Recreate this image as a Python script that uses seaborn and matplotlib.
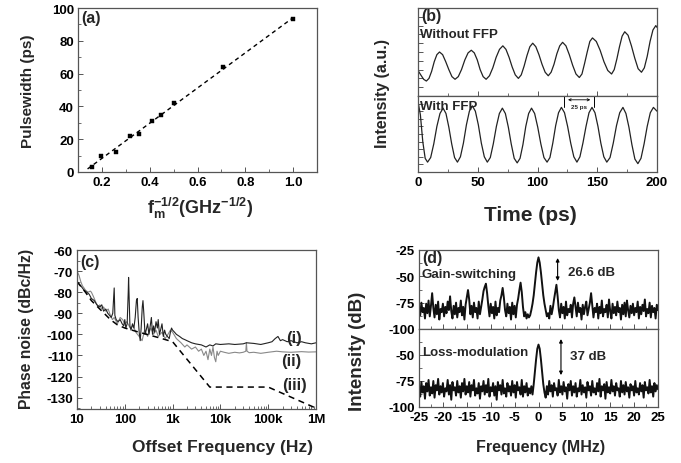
import numpy as np
import matplotlib
matplotlib.use('Agg')
import matplotlib.pyplot as plt
from matplotlib.ticker import MultipleLocator, FixedLocator, LogLocator, NullFormatter
import seaborn as sns

# ---- (a) pulsewidth vs fm^-1/2 ----
inv_sqrt_fm = [0.158, 0.196, 0.258, 0.316, 0.354, 0.408, 0.447, 0.500, 0.707, 1.000]
pulsewidth_ps = [3.0, 9.5, 12.5, 22.0, 23.0, 31.0, 34.5, 42.0, 64.0, 93.0]
fit_range = [0.14, 1.0]

# ---- (b) temporal traces ----
wo_ffp_t = [0, 2.3, 4.7, 7, 9.2, 11.4, 13.6, 15.8, 18, 20.6, 23.2, 25.8, 28.4, 31, 33.7, 36.4, 39.2,
            41.9, 44.6, 47.1, 49.6, 52, 54.5, 57, 59.8, 62.6, 65.4, 68.2, 71, 73.6, 76.2, 78.8, 81.4,
            84, 86.4, 88.8, 91.2, 93.6, 96, 98.6, 101.2, 103.8, 106.4, 109, 111.4, 113.8, 116.2,
            118.6, 121, 123.8, 126.6, 129.4, 132.2, 135, 137.2, 139.4, 141.6, 143.8, 146, 149.2,
            152.4, 155.6, 158.8, 162, 164.2, 166.4, 168.6, 170.8, 173, 175.8, 178.6, 181.4, 184.2,
            187, 189.4, 191.8, 194.2, 196.6, 199, 200]
wo_ffp_i = [0.29, 0.24, 0.19, 0.17, 0.20, 0.28, 0.39, 0.47, 0.50, 0.47, 0.39, 0.30, 0.22, 0.19, 0.22,
            0.30, 0.41, 0.49, 0.52, 0.49, 0.41, 0.30, 0.22, 0.19, 0.23, 0.32, 0.44, 0.53, 0.57, 0.53,
            0.44, 0.33, 0.24, 0.20, 0.24, 0.34, 0.46, 0.56, 0.60, 0.56, 0.47, 0.36, 0.27, 0.23, 0.27,
            0.36, 0.48, 0.57, 0.61, 0.57, 0.47, 0.35, 0.25, 0.21, 0.25, 0.37, 0.50, 0.62, 0.66, 0.62,
            0.52, 0.39, 0.29, 0.25, 0.30, 0.42, 0.56, 0.68, 0.73, 0.69, 0.57, 0.43, 0.31, 0.27, 0.32,
            0.45, 0.62, 0.75, 0.80, 0.78]
w_ffp_t = [0, 2, 4, 6, 8, 10.6, 13.2, 15.8, 18.4, 21, 23.4, 25.8, 28.2, 30.6, 33, 35.5, 38, 40.5, 43,
           45.5, 48, 50.5, 53, 55.5, 58, 60.5, 63, 65.6, 68.1, 70.6, 73.1, 75.6, 78, 80.5, 83, 85.4,
           87.8, 90.2, 92.6, 95, 97.6, 100.2, 102.8, 105.4, 108, 110.4, 112.8, 115.2, 117.6, 120,
           122.6, 125.2, 127.8, 130.4, 133, 135.5, 138, 140.6, 143.1, 145.6, 148.1, 150.6, 153, 155.5,
           158, 160.7, 163.4, 166.1, 168.8, 171.5, 174, 176.5, 179, 181.5, 184, 186.6, 189.2, 191.8,
           194.4, 197, 200]
w_ffp_i = [0.93, 0.75, 0.40, 0.18, 0.13, 0.19, 0.37, 0.60, 0.77, 0.84, 0.77, 0.59, 0.37, 0.19, 0.13,
           0.20, 0.38, 0.62, 0.80, 0.87, 0.80, 0.62, 0.38, 0.20, 0.13, 0.19, 0.37, 0.60, 0.77, 0.84,
           0.77, 0.59, 0.37, 0.18, 0.12, 0.18, 0.36, 0.60, 0.77, 0.84, 0.77, 0.59, 0.37, 0.19, 0.13,
           0.19, 0.38, 0.61, 0.78, 0.85, 0.78, 0.60, 0.38, 0.20, 0.13, 0.20, 0.38, 0.60, 0.78, 0.85,
           0.78, 0.60, 0.38, 0.20, 0.13, 0.19, 0.38, 0.61, 0.78, 0.85, 0.77, 0.59, 0.36, 0.17, 0.11,
           0.18, 0.37, 0.60, 0.78, 0.85, 0.80]
period_marks = [122.2, 147.5]

# ---- (c) phase noise ----
pn_i_f = [10, 12, 14, 16, 18, 20, 23, 26, 30, 33, 36, 40, 44, 48, 52, 56, 60, 62, 66, 72, 80, 88, 95,
          100, 105, 112, 118, 120, 123, 128, 135, 145, 155, 165, 175, 182, 190, 200, 210, 220, 232,
          240, 250, 265, 280, 300, 320, 340, 360, 380, 400, 420, 450, 480, 500, 530, 560, 600, 640,
          680, 720, 780, 850, 900, 950, 1000, 1100, 1200, 1400, 1600, 1800, 2000, 2500, 3000, 4000,
          5000, 6000, 7000, 8000, 10000, 15000, 20000, 30000, 35000, 50000, 70000, 100000, 120000,
          140000, 160000, 180000, 200000, 250000, 300000, 400000, 500000, 600000, 800000, 1000000]
pn_i_db = [-75, -77, -79, -80, -81, -83, -84, -86, -87, -86, -89, -88, -90, -91, -92, -90, -78, -91,
           -93, -94, -93, -95, -96, -93, -97, -95, -80, -73, -82, -96, -98, -95, -97, -92, -84, -83,
           -92, -99, -103, -97, -87, -84, -90, -100, -98, -95, -100, -96, -92, -100, -96, -99, -94,
           -97, -93, -100, -98, -95, -101, -98, -100, -101, -102, -99, -97, -98, -99, -100, -101,
           -102, -102.5, -103, -104, -104.5, -105, -106, -105, -105.5, -104.5, -104.8, -104.5,
           -104.8, -104.5, -104, -104.3, -104.8, -104, -103.5, -102, -101, -103, -102.5, -103.5,
           -103, -104, -103.5, -104, -104.5, -104]
pn_ii_f = [10, 11, 12, 13, 14, 15, 17, 19, 20, 22, 25, 28, 30, 33, 36, 40, 45, 50, 55, 60, 70, 80, 90,
           100, 110, 130, 150, 170, 200, 230, 260, 300, 350, 400, 450, 500, 600, 700, 800, 900, 1000,
           1200, 1500, 1800, 2000, 2500, 3000, 3500, 4000, 4500, 5000, 5500, 6000, 6500, 7000, 7500,
           8000, 8500, 9000, 10000, 12000, 15000, 20000, 25000, 30000, 34000, 35000, 36000, 40000,
           50000, 70000, 100000, 150000, 200000, 300000, 500000, 700000, 1000000]
pn_ii_db = [-70, -72, -75, -77, -78, -79, -80, -79.5, -80, -82, -85, -87, -86, -88, -87, -89, -88, -91,
            -93, -92, -95, -92, -93, -95, -94, -97, -96, -99, -101, -103, -98, -101, -97, -100, -98,
            -101, -99, -102, -100, -98, -99, -102, -104, -106, -105, -107, -106, -108, -107, -110,
            -108, -112, -107, -110, -106, -111, -113, -108, -110, -108, -108.5, -109, -108.5, -108.8,
            -108.5, -108, -104, -108, -108.7, -108.5, -109, -108.5, -108, -108.3, -108.5, -108.2,
            -108.4, -108.3]
pn_iii_f = [10, 15, 20, 30, 50, 70, 100, 200, 500, 1000, 6000, 100000, 1000000]
pn_iii_db = [-75, -80, -84, -88, -93, -95.5, -97, -99, -101.5, -103.5, -125, -125, -135]
pn_labels = ['(i)', '(ii)', '(iii)']

# ---- (d) RF spectra, sampled every 0.25 MHz from -25 to 25 MHz ----
gain_sw_db = [
    -79, -87, -75, -84, -80, -90, -76, -85, -73, -88, -78, -66, -80, -89, -77, -86, -74, -91, -81, -84,
    -76, -88, -79, -85, -74, -82, -69, -83, -90, -78, -86, -75, -89, -80, -84, -73, -87, -79, -91, -77,
    -70, -63, -72, -86, -78, -89, -75, -84, -80, -90, -74, -86, -79, -72, -64, -60, -57, -66, -78, -88,
    -76, -85, -79, -90, -74, -87, -80, -84, -73, -68, -61, -70, -82, -88, -76, -85, -79, -91, -75, -86,
    -78, -89, -77, -71, -63, -56, -65, -79, -88, -84, -90, -86, -89, -87, -82, -76, -68, -57, -46, -37,
    -32, -37, -46, -57, -68, -76, -82, -88, -85, -90, -78, -86, -80, -72, -65, -58, -69, -82, -89, -76,
    -85, -79, -90, -74, -87, -81, -84, -77, -89, -76, -70, -79, -88, -75, -84, -80, -91, -77, -86, -79,
    -74, -87, -81, -75, -66, -78, -89, -80, -84, -76, -90, -79, -85, -73, -88, -81, -84, -77, -89, -72,
    -83, -90, -76, -85, -79, -87, -74, -84, -80, -91, -77, -86, -75, -88, -73, -82, -89, -78, -85, -76,
    -87, -80, -84, -74, -90, -79, -86, -77, -83, -72, -88, -81, -85, -75, -89, -78, -84, -80, -90, -77,
    -82]
loss_mod_db = [
    -82, -90, -76, -86, -80, -92, -77, -85, -74, -89, -81, -87, -75, -91, -79, -84, -73, -88, -80, -86,
    -77, -90, -82, -85, -74, -88, -79, -93, -76, -84, -81, -89, -75, -86, -80, -91, -77, -85, -73, -88,
    -80, -86, -76, -90, -79, -84, -74, -89, -82, -87, -77, -92, -80, -85, -75, -88, -79, -86, -73, -90,
    -81, -85, -77, -89, -80, -93, -76, -84, -79, -88, -74, -87, -82, -90, -77, -85, -80, -89, -75, -86,
    -79, -91, -76, -84, -81, -88, -74, -90, -80, -86, -77, -89, -82, -87, -80, -88, -78, -66, -54, -44,
    -40, -44, -54, -66, -78, -86, -91, -80, -88, -75, -85, -79, -90, -77, -84, -82, -89, -74, -86, -80,
    -88, -76, -85, -81, -92, -78, -84, -75, -89, -80, -86, -77, -90, -82, -85, -74, -88, -79, -86, -81,
    -91, -76, -84, -80, -89, -75, -86, -82, -88, -77, -85, -73, -90, -80, -84, -78, -92, -76, -86, -81,
    -87, -74, -85, -80, -89, -77, -84, -82, -90, -75, -86, -79, -88, -76, -85, -81, -91, -78, -84, -80,
    -89, -75, -86, -82, -88, -77, -85, -79, -91, -76, -84, -81, -87, -74, -86, -80, -90, -77, -85, -79,
    -83]
gain_sw_f = np.linspace(-25, 25, len(gain_sw_db))
loss_mod_f = np.linspace(-25, 25, len(loss_mod_db))

sns.set_theme(style='ticks')
plt.rcParams['font.family'] = ['Liberation Sans', 'DejaVu Sans']
plt.rcParams['font.weight'] = 'bold'
plt.rcParams['axes.labelweight'] = 'bold'
plt.rcParams['mathtext.fontset'] = 'custom'
plt.rcParams['mathtext.rm'] = 'Liberation Sans:bold'
plt.rcParams['mathtext.it'] = 'Liberation Sans:bold'
plt.rcParams['mathtext.bf'] = 'Liberation Sans:bold'

W, H = 681, 464
fig = plt.figure(figsize=(W / 100, H / 100), dpi=100)
TICK_SIZE = 9.5


def px_axes(left, top, right, bottom):
    return fig.add_axes([left / W, 1 - bottom / H, (right - left) / W, (bottom - top) / H])


def style(ax, labelsize=TICK_SIZE):
    for s in ax.spines.values():
        s.set_color('#555555')
        s.set_linewidth(0.9)
    ax.tick_params(which='both', direction='in', colors='#555555', labelcolor='black',
                   labelsize=labelsize, top=False, right=False, pad=3)
    ax.tick_params(which='major', length=3.5, width=0.7)
    ax.tick_params(which='minor', length=2, width=0.6)
    for lab in ax.get_xticklabels() + ax.get_yticklabels():
        lab.set_fontweight('bold')


def ftext(x, y, s, **kw):
    fig.text(x / W, 1 - y / H, s, ha='center', va='center', fontweight='bold', **kw)


# ---------------- (a) ----------------
ax = px_axes(78, 9, 317, 173)
slope, icpt = np.polyfit(inv_sqrt_fm, pulsewidth_ps, 1)
fx = np.array(fit_range)
sns.lineplot(x=fx, y=slope * fx + icpt, ax=ax, color='black', lw=1.0, linestyle=(0, (3, 2.5)))
sns.scatterplot(x=inv_sqrt_fm, y=pulsewidth_ps, marker='s', s=12, color='black',
                edgecolor='black', linewidth=0.3, ax=ax, zorder=3)
ax.set_xlim(0.1, 1.1)
ax.set_ylim(0, 100)
ax.xaxis.set_major_locator(FixedLocator([0.2, 0.4, 0.6, 0.8, 1.0]))
ax.xaxis.set_minor_locator(MultipleLocator(0.1))
ax.yaxis.set_major_locator(MultipleLocator(20))
ax.yaxis.set_minor_locator(MultipleLocator(10))
ax.set_xticklabels(['0.2', '0.4', '0.6', '0.8', '1.0'])
style(ax)
ax.text(0.012, 0.94, '(a)', transform=ax.transAxes, fontsize=11.5, fontweight='bold', va='center')
ftext(28, 91, 'Pulsewidth (ps)', fontsize=11, rotation=90)
ftext(200, 208, r'f$_{m}^{-1/2}$(GHz$^{-1/2}$)', fontsize=13)

# ---------------- (b) ----------------
axb1 = px_axes(418, 9, 657, 97)
axb2 = px_axes(418, 97, 657, 173)
sns.lineplot(x=wo_ffp_t, y=wo_ffp_i, ax=axb1, color='#222222', lw=0.9, sort=False)
sns.lineplot(x=w_ffp_t, y=w_ffp_i, ax=axb2, color='#222222', lw=0.9, sort=False)
for a in (axb1, axb2):
    a.set_xlim(0, 200)
    a.set_ylim(0, 1)
    a.xaxis.set_major_locator(MultipleLocator(50))
    a.xaxis.set_minor_locator(MultipleLocator(25))
    a.yaxis.set_major_locator(MultipleLocator(0.1))
    a.set_yticklabels([])
    style(a)
axb1.set_xticklabels([])
axb1.text(0.015, 0.92, '(b)', transform=axb1.transAxes, fontsize=11.5, fontweight='bold', va='center')
axb1.text(0.008, 0.71, 'Without FFP', transform=axb1.transAxes, fontsize=9.5, fontweight='bold',
          va='center')
axb2.text(0.008, 0.87, 'With FFP', transform=axb2.transAxes, fontsize=9.5, fontweight='bold',
          va='center')
for m in period_marks:
    axb2.axvline(m, ymin=0.86, ymax=1.0, color='black', lw=0.7)
axb2.annotate('', xy=(period_marks[1] - 1, 0.95), xytext=(period_marks[0] + 1, 0.95),
              arrowprops=dict(arrowstyle='<->', lw=0.6, mutation_scale=4, color='black'))
axb2.text(np.mean(period_marks), 0.86, '25 ps', fontsize=4.5, fontweight='bold', ha='center',
          va='center')
ftext(382, 93, 'Intensity (a.u.)', fontsize=11.5, rotation=90)
ftext(530, 216, 'Time (ps)', fontsize=15)

# ---------------- (c) ----------------
axc = px_axes(77, 251, 316, 410)
sns.lineplot(x=pn_ii_f, y=pn_ii_db, ax=axc, color='#888888', lw=0.8, sort=False)
sns.lineplot(x=pn_i_f, y=pn_i_db, ax=axc, color='#222222', lw=0.8, sort=False)
sns.lineplot(x=pn_iii_f, y=pn_iii_db, ax=axc, color='black', lw=1.1, linestyle=(0, (4, 3)),
             sort=False)
axc.set_xscale('log')
axc.set_xlim(10, 1e6)
axc.set_ylim(-135.4, -60)
axc.xaxis.set_major_locator(FixedLocator([10, 100, 1e3, 1e4, 1e5, 1e6]))
axc.xaxis.set_minor_locator(LogLocator(base=10, subs=np.arange(2, 10), numticks=20))
axc.xaxis.set_minor_formatter(NullFormatter())
axc.set_xticklabels(['10', '100', '1k', '10k', '100k', '1M'])
axc.yaxis.set_major_locator(FixedLocator([-130, -120, -110, -100, -90, -80, -70, -60]))
axc.yaxis.set_minor_locator(MultipleLocator(5))
axc.set_yticklabels(['-130', '-120', '-110', '-100', '-90', '-80', '-70', '-60'])
style(axc)
axc.text(0.012, 0.93, '(c)', transform=axc.transAxes, fontsize=11.5, fontweight='bold', va='center')
for lab, (fx_, fy_) in zip(pn_labels, [(3.5e5, -101.5), (3.0e5, -112.6), (3.5e5, -124)]):
    axc.text(fx_, fy_, lab, fontsize=12, fontweight='bold', ha='center', va='center')
ftext(27, 329, 'Phase noise (dBc/Hz)', fontsize=11.3, rotation=90)
ftext(222, 448, 'Offset Frequency (Hz)', fontsize=12.5)

# ---------------- (d) ----------------
axd1 = px_axes(419, 251, 658, 330)
axd2 = px_axes(419, 330, 658, 408)
sns.lineplot(x=gain_sw_f, y=gain_sw_db, ax=axd1, color='#111111', lw=1.4, sort=False)
sns.lineplot(x=loss_mod_f, y=loss_mod_db, ax=axd2, color='#111111', lw=1.4, sort=False)
for a in (axd1, axd2):
    a.set_xlim(-25, 25)
    a.set_ylim(-100, -25)
    a.xaxis.set_major_locator(MultipleLocator(5))
    a.xaxis.set_minor_locator(MultipleLocator(2.5))
    a.yaxis.set_minor_locator(MultipleLocator(12.5))
axd1.yaxis.set_major_locator(FixedLocator([-100, -75, -50, -25]))
axd1.set_yticklabels(['-100', '-75', '-50', '-25'])
axd2.yaxis.set_major_locator(FixedLocator([-100, -75, -50]))
axd2.set_yticklabels(['-100', '-75', '-50'])
axd2.xaxis.set_major_locator(FixedLocator(list(range(-25, 26, 5))))
axd2.set_xticklabels([str(v) for v in range(-25, 26, 5)])
axd1.set_xticklabels([])
style(axd1)
style(axd2)
axd1.text(0.012, 0.91, '(d)', transform=axd1.transAxes, fontsize=11.5, fontweight='bold',
          va='center')
axd1.text(0.012, 0.70, 'Gain-switching', transform=axd1.transAxes, fontsize=9.5,
          fontweight='bold', va='center')
axd2.text(0.012, 0.70, 'Loss-modulation', transform=axd2.transAxes, fontsize=9.5,
          fontweight='bold', va='center')
axd1.annotate('', xy=(4.0, -57), xytext=(4.0, -30),
              arrowprops=dict(arrowstyle='<|-|>', lw=0.8, mutation_scale=5, color='black'))
axd1.text(6.2, -46, '26.6 dB', fontsize=9.5, fontweight='bold', va='center')
axd2.annotate('', xy=(4.7, -72), xytext=(4.7, -32),
              arrowprops=dict(arrowstyle='<|-|>', lw=0.8, mutation_scale=5, color='black'))
axd2.text(6.6, -51, '37 dB', fontsize=9.5, fontweight='bold', va='center')
ftext(358, 351, 'Intensity (dB)', fontsize=13.5, rotation=90)
ftext(541, 448, 'Frequency (MHz)', fontsize=11.5)

fig.savefig('out.png', dpi=100)
